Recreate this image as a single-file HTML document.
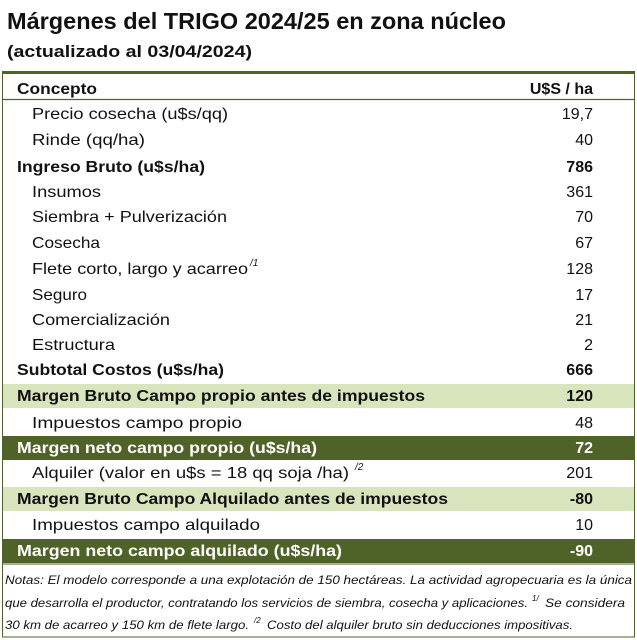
<!DOCTYPE html>
<html><head><meta charset="utf-8"><style>body{margin:0;background:#fff}svg{display:block}</style></head><body>
<svg width="637" height="640" xmlns="http://www.w3.org/2000/svg" font-family="Liberation Sans, sans-serif" fill="#111">
<text x="7" y="29" font-size="23" font-weight="bold" textLength="499" lengthAdjust="spacingAndGlyphs">Márgenes del TRIGO 2024/25 en zona núcleo</text>
<text x="7" y="57" font-size="17" font-weight="bold" textLength="245" lengthAdjust="spacingAndGlyphs">(actualizado al 03/04/2024)</text>
<rect x="3" y="384" width="631" height="24" fill="#d8e4bc"/>
<rect x="3" y="436" width="631" height="24" fill="#4f6228"/>
<rect x="3" y="487" width="631" height="24" fill="#d8e4bc"/>
<rect x="3" y="539" width="631" height="24" fill="#4f6228"/>
<rect x="2.5" y="72" width="632" height="565" fill="none" stroke="#4f6228" stroke-width="1"/>
<line x1="2" y1="72.5" x2="635" y2="72.5" stroke="#4f6228" stroke-width="3"/>
<line x1="2" y1="99.5" x2="635" y2="99.5" stroke="#4f6228" stroke-width="1.2"/>
<line x1="2" y1="564" x2="635" y2="564" stroke="#4f6228" stroke-width="1"/>
<g font-size="16">
<text x="17" y="94" font-weight="bold" textLength="80" lengthAdjust="spacingAndGlyphs">Concepto</text>
<text x="593" y="94" font-weight="bold" text-anchor="end">U$S / ha</text>
<text x="32" y="119" textLength="196" lengthAdjust="spacingAndGlyphs">Precio cosecha (u$s/qq)</text><text x="593" y="119" text-anchor="end">19,7</text>
<text x="32" y="145" textLength="113" lengthAdjust="spacingAndGlyphs">Rinde (qq/ha)</text><text x="593" y="145" text-anchor="end">40</text>
<text x="17" y="172" font-weight="bold" textLength="188" lengthAdjust="spacingAndGlyphs">Ingreso Bruto (u$s/ha)</text><text x="593" y="172" text-anchor="end" font-weight="bold">786</text>
<text x="32" y="197" textLength="69" lengthAdjust="spacingAndGlyphs">Insumos</text><text x="593" y="197" text-anchor="end">361</text>
<text x="32" y="222" textLength="195" lengthAdjust="spacingAndGlyphs">Siembra + Pulverización</text><text x="593" y="222" text-anchor="end">70</text>
<text x="32" y="248" textLength="68" lengthAdjust="spacingAndGlyphs">Cosecha</text><text x="593" y="248" text-anchor="end">67</text>
<text x="32" y="274" textLength="216" lengthAdjust="spacingAndGlyphs">Flete corto, largo y acarreo</text><text x="250" y="266" font-size="10" font-style="italic">/1</text><text x="593" y="274" text-anchor="end">128</text>
<text x="32" y="300" textLength="55" lengthAdjust="spacingAndGlyphs">Seguro</text><text x="593" y="300" text-anchor="end">17</text>
<text x="32" y="325" textLength="138" lengthAdjust="spacingAndGlyphs">Comercialización</text><text x="593" y="325" text-anchor="end">21</text>
<text x="32" y="350" textLength="83" lengthAdjust="spacingAndGlyphs">Estructura</text><text x="593" y="350" text-anchor="end">2</text>
<text x="17" y="375" font-weight="bold" textLength="207" lengthAdjust="spacingAndGlyphs">Subtotal Costos (u$s/ha)</text><text x="593" y="375" text-anchor="end" font-weight="bold">666</text>
<text x="17" y="401" font-weight="bold" textLength="408" lengthAdjust="spacingAndGlyphs">Margen Bruto Campo propio antes de impuestos</text><text x="593" y="401" text-anchor="end" font-weight="bold">120</text>
<text x="32" y="428" textLength="210" lengthAdjust="spacingAndGlyphs">Impuestos  campo propio</text><text x="593" y="428" text-anchor="end">48</text>
<g fill="#fff" font-weight="bold"><text x="17" y="453" textLength="300" lengthAdjust="spacingAndGlyphs">Margen neto campo propio (u$s/ha)</text><text x="593" y="453" text-anchor="end">72</text></g>
<text x="32" y="478" textLength="317" lengthAdjust="spacingAndGlyphs">Alquiler (valor en u$s = 18 qq soja /ha)</text><text x="355" y="470" font-size="10" font-style="italic">/2</text><text x="593" y="478" text-anchor="end">201</text>
<text x="17" y="504" font-weight="bold" textLength="431" lengthAdjust="spacingAndGlyphs">Margen Bruto Campo Alquilado antes de impuestos</text><text x="593" y="504" text-anchor="end" font-weight="bold">-80</text>
<text x="32" y="530" textLength="228" lengthAdjust="spacingAndGlyphs">Impuestos campo alquilado</text><text x="593" y="530" text-anchor="end">10</text>
<g fill="#fff" font-weight="bold"><text x="17" y="556" textLength="325" lengthAdjust="spacingAndGlyphs">Margen neto campo alquilado (u$s/ha)</text><text x="593" y="556" text-anchor="end">-90</text></g>
</g>
<g font-size="11.5" font-style="italic">
<text x="5" y="584" textLength="627" lengthAdjust="spacingAndGlyphs">Notas: El modelo corresponde a una explotación de 150 hectáreas. La actividad agropecuaria es la única</text>
<text x="5" y="607" textLength="523" lengthAdjust="spacingAndGlyphs">que desarrolla el productor, contratando los servicios de siembra, cosecha y aplicaciones.</text>
<text x="532" y="601" font-size="8">1/</text>
<text x="545" y="607" textLength="80" lengthAdjust="spacingAndGlyphs">Se considera</text>
<text x="5" y="629" textLength="244" lengthAdjust="spacingAndGlyphs">30 km de acarreo y 150 km de flete largo.</text>
<text x="254" y="623" font-size="8">/2</text>
<text x="267" y="629" textLength="306" lengthAdjust="spacingAndGlyphs">Costo del alquiler bruto sin deducciones impositivas.</text>
</g>
</svg>
</body></html>
